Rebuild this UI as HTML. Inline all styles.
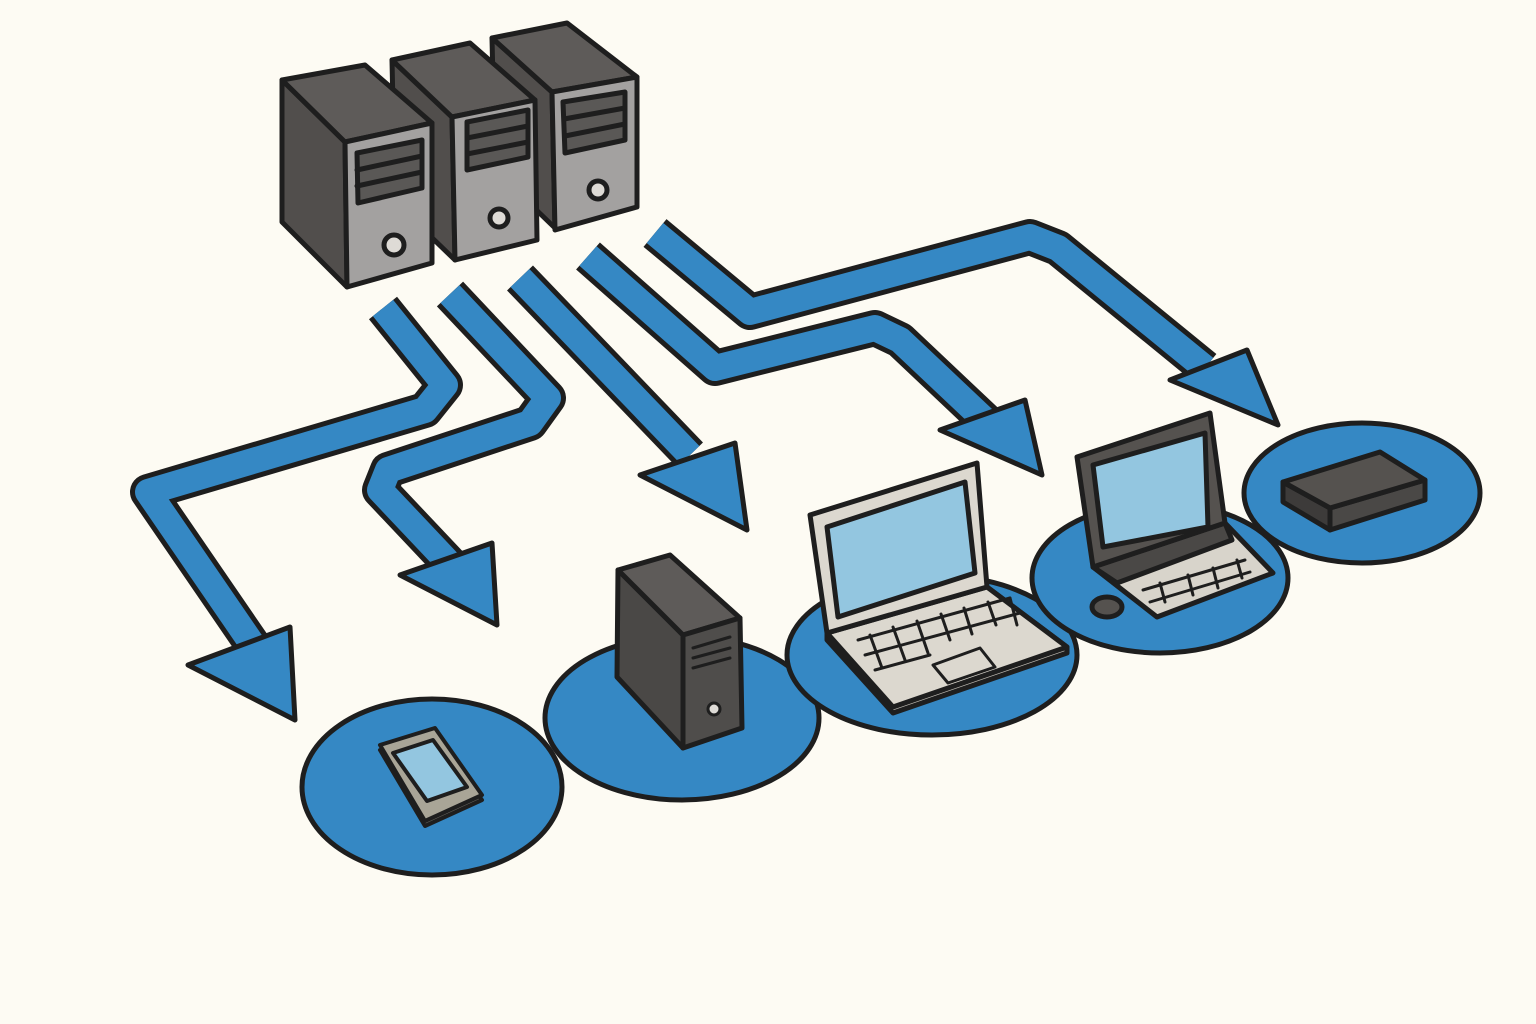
<!DOCTYPE html>
<html><head><meta charset="utf-8"><style>html,body{margin:0;padding:0;background:#fdfbf3}svg{display:block}</style></head>
<body>
<svg width="1536" height="1024" viewBox="0 0 1536 1024" xmlns="http://www.w3.org/2000/svg" stroke-linejoin="round" stroke-linecap="round">
<rect width="1536" height="1024" fill="#fdfbf3"/>
<g fill="#3588c4" stroke="#1e1e1e" stroke-width="5">
<ellipse cx="432" cy="787" rx="130" ry="88"/>
<ellipse cx="682" cy="718" rx="137" ry="82"/>
<ellipse cx="932" cy="655" rx="145" ry="80"/>
<ellipse cx="1160" cy="578" rx="128" ry="75"/>
<ellipse cx="1362" cy="493" rx="118" ry="70"/>
</g>
<!-- arrows -->
<g fill="none" stroke-linejoin="round" stroke-linecap="butt">
<g stroke="#1e1e1e" stroke-width="36">
<polyline points="383,308 445,385 425,410 148,492 270,670"/>
<polyline points="450,294 548,398 530,423 388,470 380,490 465,580"/>
<polyline points="520,278 690,455"/>
<polyline points="588,256 715,368 875,328 900,340 990,425"/>
<polyline points="655,233 750,312 1030,237 1058,248 1205,368"/>
</g>
<g stroke="#3588c4" stroke-width="26">
<polyline points="383,308 445,385 425,410 148,492 270,670"/>
<polyline points="450,294 548,398 530,423 388,470 380,490 465,580"/>
<polyline points="520,278 690,455"/>
<polyline points="588,256 715,368 875,328 900,340 990,425"/>
<polyline points="655,233 750,312 1030,237 1058,248 1205,368"/>
</g>
</g>
<g fill="#3588c4" stroke="#1e1e1e" stroke-width="5">
<polygon points="188,665 290,627 295,720"/>
<polygon points="400,575 492,543 497,625"/>
<polygon points="640,475 735,443 747,530"/>
<polygon points="940,430 1025,400 1042,475"/>
<polygon points="1170,380 1247,350 1278,425"/>
</g>
<!-- servers -->
<g stroke="#1e1e1e" stroke-width="5">
<polygon points="492,38 552,92 555,228 495,170" fill="#514e4c"/>
<polygon points="492,38 567,23 637,77 552,92" fill="#5e5b59"/>
<polygon points="552,92 637,77 637,207 555,230" fill="#a3a1a0"/>
<polygon points="563,102 625,92 625,140 565,153" fill="#5a5856"/>
<line x1="564" y1="119" x2="625" y2="108"/><line x1="565" y1="136" x2="625" y2="124"/>
<circle cx="598" cy="190" r="9" fill="#dedbd6"/>
<polygon points="392,60 452,117 455,260 395,202" fill="#514e4c"/>
<polygon points="392,60 470,43 535,100 452,117" fill="#5e5b59"/>
<polygon points="452,117 535,100 537,240 455,260" fill="#a3a1a0"/>
<polygon points="467,122 528,110 528,157 467,170" fill="#5a5856"/>
<line x1="467" y1="138" x2="528" y2="126"/><line x1="467" y1="154" x2="528" y2="142"/>
<circle cx="499" cy="218" r="9" fill="#dedbd6"/>
<polygon points="282,80 345,142 347,287 282,222" fill="#514e4c"/>
<polygon points="282,80 365,65 432,123 345,142" fill="#5e5b59"/>
<polygon points="345,142 432,123 432,263 347,287" fill="#a3a1a0"/>
<polygon points="357,153 422,140 422,188 358,203" fill="#5a5856"/>
<line x1="357" y1="170" x2="422" y2="156"/><line x1="357" y1="186" x2="422" y2="172"/>
<circle cx="394" cy="245" r="10" fill="#dedbd6"/>
</g>
<!-- phone -->
<g stroke="#1e1e1e" stroke-width="4">
<polygon points="380,750 435,733 482,800 425,826" fill="#6e6b63"/>
<polygon points="380,745 435,728 482,795 425,821" fill="#a9a597"/>
<polygon points="393,753 433,740 467,787 427,801" fill="#93c6e0"/>
</g>
<!-- desktop -->
<g stroke="#1e1e1e" stroke-width="5">
<polygon points="618,570 683,635 683,748 617,677" fill="#4a4846"/>
<polygon points="618,570 670,555 740,618 683,635" fill="#5e5b59"/>
<polygon points="683,635 740,618 742,728 683,748" fill="#4f4d4b"/>
<line x1="693" y1="648" x2="730" y2="637" stroke-width="3"/>
<line x1="693" y1="658" x2="730" y2="648" stroke-width="3"/>
<line x1="693" y1="668" x2="730" y2="658" stroke-width="3"/>
<circle cx="714" cy="709" r="6" fill="#dedbd6" stroke-width="3"/>
</g>
<!-- laptop1 -->
<g stroke="#1e1e1e" stroke-width="5">
<polygon points="827,633 987,587 1067,647 1067,653 893,713 827,640" fill="#bdb9b1"/>
<polygon points="827,633 987,587 1067,647 893,707" fill="#dcd8cf"/>
<polygon points="810,515 977,463 987,587 827,633" fill="#dcd8cf"/>
<polygon points="827,527 965,482 975,573 838,617" fill="#93c6e0"/>
<g stroke-width="3" fill="none">
<line x1="858" y1="640" x2="1010" y2="598"/>
<line x1="865" y1="655" x2="1020" y2="613"/>
<line x1="875" y1="670" x2="930" y2="655"/>
<line x1="870" y1="635" x2="882" y2="668"/>
<line x1="893" y1="627" x2="905" y2="660"/>
<line x1="917" y1="621" x2="928" y2="653"/>
<line x1="941" y1="614" x2="950" y2="640"/>
<line x1="964" y1="608" x2="972" y2="634"/>
<line x1="988" y1="602" x2="996" y2="625"/>
<line x1="1010" y1="598" x2="1017" y2="625"/>
</g>
<polygon points="933,665 980,648 995,667 948,683" fill="#dcd8cf" stroke-width="3"/>
</g>
<!-- laptop2 -->
<g stroke="#1e1e1e" stroke-width="5">
<ellipse cx="1107" cy="607" rx="15" ry="10" fill="#55524f"/>
<polygon points="1093,567 1225,523 1273,573 1157,617" fill="#d8d4cb"/>
<polygon points="1093,567 1225,523 1232,540 1117,583" fill="#4a4846"/>
<polygon points="1077,457 1210,413 1225,523 1093,567" fill="#55524f"/>
<polygon points="1093,465 1205,433 1208,527 1103,547" fill="#93c6e0"/>
<g stroke-width="3">
<line x1="1143" y1="590" x2="1245" y2="560"/>
<line x1="1150" y1="602" x2="1250" y2="572"/>
<line x1="1160" y1="583" x2="1165" y2="602"/>
<line x1="1188" y1="575" x2="1193" y2="595"/>
<line x1="1213" y1="568" x2="1218" y2="588"/>
<line x1="1237" y1="560" x2="1242" y2="578"/>
</g>
</g>
<!-- box -->
<g stroke="#1e1e1e" stroke-width="5">
<polygon points="1283,482 1330,508 1330,530 1283,502" fill="#3d3b3a"/>
<polygon points="1330,508 1425,480 1425,500 1330,530" fill="#4a4846"/>
<polygon points="1283,482 1380,452 1425,480 1330,508" fill="#55524f"/>
</g>
</svg>
</body></html>
